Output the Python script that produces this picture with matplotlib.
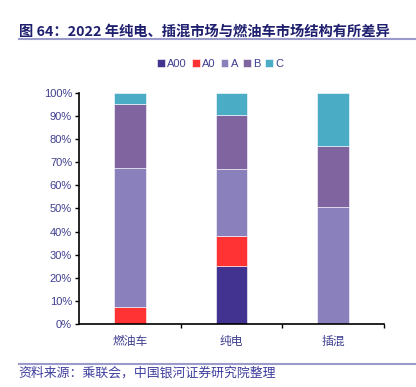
import matplotlib
matplotlib.use('Agg')
import matplotlib.pyplot as plt
import numpy as np

plt.rcParams['font.family'] = ['Liberation Sans', 'Noto Sans CJK SC', 'DejaVu Sans']

categories = ['燃油车', '纯电', '插混']
segments = ['A00', 'A0', 'A', 'B', 'C']
share_a00 = [0.0, 25.0, 0.0]
share_a0 = [7.5, 13.0, 0.0]
share_a = [60.0, 29.0, 50.5]
share_b = [27.5, 23.6, 26.3]
share_c = [5.0, 9.4, 23.2]
yticks = [0, 10, 20, 30, 40, 50, 60, 70, 80, 90, 100]

colors = ['#41338F', '#FF3333', '#8A80BB', '#80649F', '#4BACC6']
text_color = '#3F3F8F'

fig = plt.figure(figsize=(4.16, 3.87), dpi=100)
ax = fig.add_axes([0.19, 0.163, 0.733, 0.597])

x = np.arange(len(categories))
bottom = np.zeros(len(categories))
for name, vals, c in zip(segments, [share_a00, share_a0, share_a, share_b, share_c], colors):
    ax.bar(x, vals, width=0.31, bottom=bottom, color=c, label=name,
           edgecolor='white', linewidth=0.4)
    bottom += np.array(vals)

ax.set_xlim(-0.5, 2.5)
ax.set_ylim(0, 100)
ax.set_yticks(yticks)
ax.set_yticklabels([f'{v}%' for v in yticks], color=text_color, fontsize=8)
ax.set_xticks(x)
ax.set_xticklabels(categories, color=text_color, fontsize=8.5,
                   family=['Noto Sans CJK SC'])
ax.set_xticks([0.5, 1.5, 2.5], minor=True)
ax.tick_params(axis='x', which='major', length=0, pad=8)
ax.tick_params(axis='x', which='minor', length=3, width=1, direction='out')
ax.tick_params(axis='y', length=3, width=1, direction='out', pad=2)
for s in ['top', 'right']:
    ax.spines[s].set_visible(False)
for s in ['left', 'bottom']:
    ax.spines[s].set_linewidth(1.2)

ax.legend(loc='center', bbox_to_anchor=(0.53, 0.835), bbox_transform=fig.transFigure,
          ncol=5, frameon=False, fontsize=8, handlelength=0.7, handleheight=0.7,
          handletextpad=0.2, columnspacing=0.45, labelcolor=text_color)

# title and source
fig.text(0.045, 0.918, '图 64：2022 年纯电、插混市场与燃油车市场结构有所差异',
         fontsize=10.3, fontweight='bold', color='#1F1F6F',
         family=['Noto Sans CJK SC'], va='center')
fig.add_artist(plt.Line2D([0.045, 1.0], [0.9, 0.9], color='#9B9BCB', linewidth=1.5))
fig.add_artist(plt.Line2D([0.045, 1.0], [0.059, 0.059], color='#9B9BCB', linewidth=1.5))
fig.text(0.045, 0.035, '资料来源：乘联会，中国银河证券研究院整理', fontsize=9.3,
         color='#3F3F9F', style='italic', family=['Noto Sans CJK SC'], va='center')

fig.savefig('out.png', dpi=100)
